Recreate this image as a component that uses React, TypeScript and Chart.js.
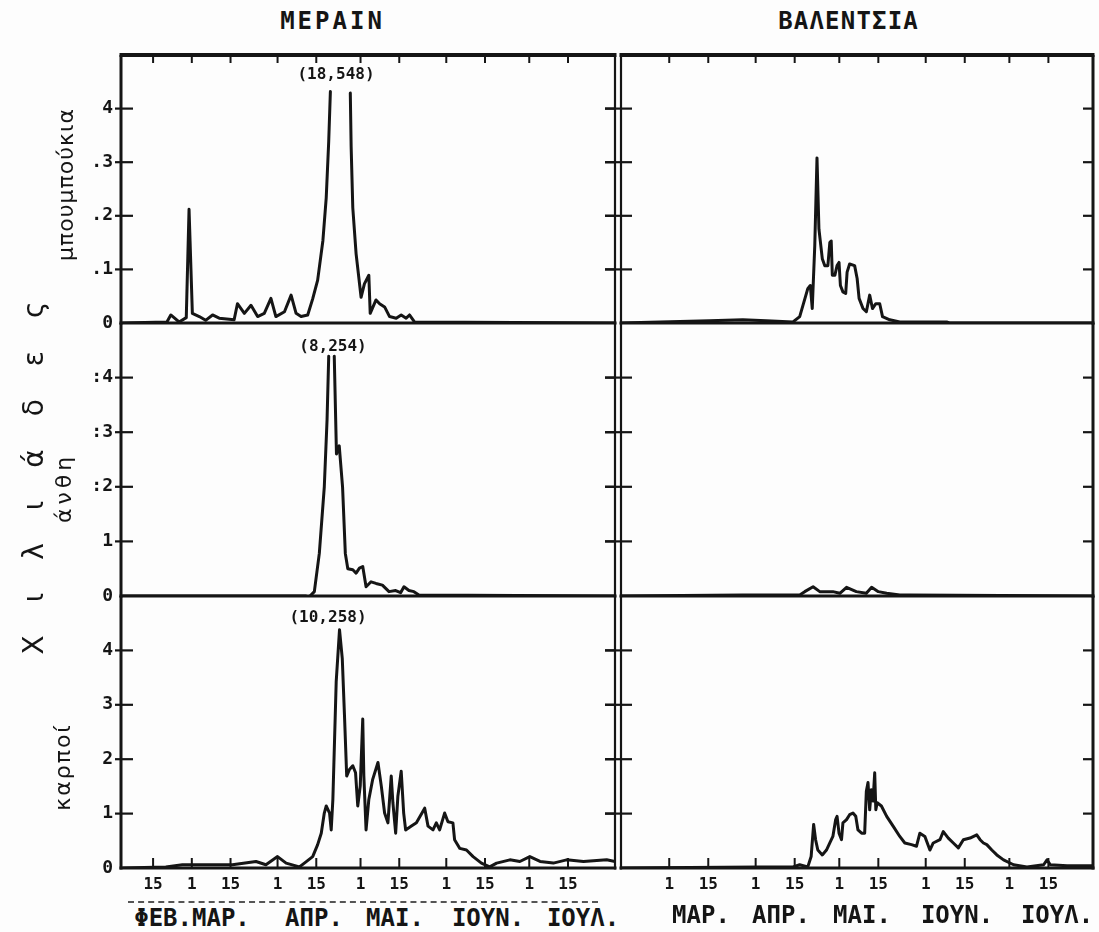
import React, { useEffect, useRef } from "react";
import { Chart, registerables } from "chart.js";

Chart.register(...registerables);

type Pt = [number, number | null];

// x = day counted from 1 February, y = thousands
const merainBuds: Pt[] = [
  [3, 0], [19, 0.02], [20.4, 0.15], [23.4, 0.02], [26, 0.1], [27, 2.12], [28.2, 0.18],
  [30.7, 0.12], [33, 0.05], [35.5, 0.15], [37.9, 0.09], [43.3, 0.06], [44.5, 0.36],
  [47, 0.18], [49.4, 0.33], [51.8, 0.12], [54.2, 0.18], [56.6, 0.46], [58.4, 0.12],
  [61.5, 0.21], [63.9, 0.52], [65.7, 0.18], [67.5, 0.12], [69.9, 0.15], [71.7, 0.45],
  [73.5, 0.8], [75.4, 1.54], [76.6, 2.34], [77.5, 3.39], [78.1, 4.32], [81.7, null],
  [85.3, 4.29], [85.6, 3.3], [86.2, 2.15], [87.4, 1.29], [89.2, 0.48], [90.4, 0.73],
  [92, 0.89], [92.5, 0.18], [94.6, 0.43], [95.9, 0.36], [97.7, 0.3], [99.5, 0.12],
  [101.9, 0.09], [103.7, 0.15], [105.5, 0.09], [106.7, 0.15], [108.5, 0.02], [181, 0],
];

const merainFlowers: Pt[] = [
  [3, 0], [69.3, 0], [70, -0.04], [72.3, 0.08], [74.1, 0.78], [75.9, 2.0], [76.9, 3.23],
  [77.5, 4.39], [78.5, null], [79.5, 4.39], [80.3, 2.6], [81.3, 2.75], [82.5, 2.0],
  [83.5, 0.78], [84.4, 0.5], [86.2, 0.48], [87.4, 0.42], [88.6, 0.51], [89.8, 0.54],
  [91, 0.17], [92.8, 0.26], [94.6, 0.23], [96.9, 0.2], [99.3, 0.08], [101.7, 0.1],
  [103.5, 0.06], [104.7, 0.17], [106.5, 0.1], [108.3, 0.08], [110.1, 0.02], [181, 0],
];

const merainFruit: Pt[] = [
  [3, 0], [18.6, 0.02], [24.6, 0.06], [30.7, 0.06], [36.7, 0.06], [42.7, 0.06], [51.2, 0.12],
  [54.8, 0.06], [59, 0.21], [62.1, 0.09], [66.9, 0.02], [68.7, 0.09], [71.7, 0.21],
  [73.5, 0.43], [74.8, 0.64], [75.9, 1.01], [76.6, 1.14], [77.8, 1.01], [78.4, 0.7],
  [79, 1.26], [80.2, 3.42], [81.4, 4.38], [82.4, 3.85], [83.2, 2.8], [84, 1.69],
  [85, 1.81], [86.2, 1.88], [87.2, 1.75], [88, 1.14], [88.9, 1.51], [89.8, 2.74],
  [90.2, 1.69], [91, 0.7], [92, 1.26], [93.4, 1.63], [95.3, 1.94], [96.5, 1.51],
  [97.7, 1.01], [98.9, 0.83], [100.1, 1.69], [100.7, 1.2], [101.7, 0.64], [102.5, 1.32],
  [103.7, 1.78], [104.6, 1.01], [105.3, 0.7], [107.4, 0.77], [109.2, 0.83], [112.2, 1.1],
  [113.4, 0.77], [115.2, 0.7], [116.4, 0.83], [117.6, 0.7], [119.4, 1.01], [120.6, 0.85],
  [122.4, 0.83], [123, 0.52], [124.9, 0.36], [127.3, 0.33], [129.7, 0.21], [132.7, 0.09],
  [135.7, 0.02], [138.2, 0.09], [143, 0.15], [146.6, 0.12], [150.2, 0.21], [153.9, 0.12],
  [158.7, 0.09], [163.5, 0.15], [169.6, 0.12], [178, 0.15], [181, 0.12],
];

const valenciaBuds: Pt[] = [
  [10.7, 0], [42.4, 0.04], [54.4, 0.06], [62.8, 0.04], [72.4, 0.02], [74.8, 0.12],
  [77.7, 0.64], [78.6, 0.7], [79.3, 0.27], [80.2, 1.44], [81, 3.08], [81.7, 1.75],
  [82.9, 1.2], [83.8, 1.07], [84.9, 1.07], [85.6, 1.5], [86.1, 1.53], [86.5, 0.89],
  [87.4, 0.89], [88.2, 1.07], [88.9, 1.13], [89.4, 0.7], [90.3, 0.58], [91.3, 0.55],
  [91.8, 0.95], [92.7, 1.1], [94.5, 1.07], [95.4, 0.83], [96.1, 0.46], [97.5, 0.27],
  [98.7, 0.21], [99.9, 0.52], [100.9, 0.27], [102.1, 0.36], [103.5, 0.36], [104.5, 0.12],
  [107.1, 0.06], [110.7, 0.02], [127.5, 0.02], [128.5, 0], [180, 0],
];

const valenciaFlowers: Pt[] = [
  [10.7, 0], [54.4, 0.02], [74.8, 0.02], [76.6, 0.08], [79.6, 0.17], [82, 0.08],
  [86.7, 0.08], [89.2, 0.05], [91.6, 0.16], [95.1, 0.08], [98.7, 0.05], [100.6, 0.16],
  [103, 0.08], [106, 0.05], [110.7, 0.02], [114.3, 0.02], [180, 0],
];

const valenciaFruit: Pt[] = [
  [10.7, 0], [60, 0.02], [72.4, 0.02], [74.8, 0.06], [77.7, 0.02], [78.9, 0.21], [79.8, 0.8],
  [80.5, 0.52], [81.3, 0.33], [82.9, 0.24], [84.4, 0.33], [85.6, 0.46], [86.7, 0.58],
  [87.7, 0.89], [88.2, 0.95], [88.9, 0.64], [89.8, 0.52], [90.3, 0.83], [91.6, 0.89],
  [92.7, 0.98], [93.9, 1.01], [94.9, 0.95], [95.7, 0.7], [97, 0.64], [98.1, 0.64],
  [98.7, 1.41], [99.3, 1.57], [99.9, 1.07], [100.5, 1.44], [101.1, 1.23], [101.7, 1.75],
  [102.1, 1.07], [102.6, 1.2], [104.1, 1.14], [106, 0.95], [108.3, 0.77], [110.7, 0.58],
  [112.5, 0.46], [114.9, 0.43], [116.7, 0.4], [117.9, 0.64], [119.7, 0.58], [121.5, 0.33],
  [122.7, 0.46], [125.1, 0.52], [126.3, 0.67], [128.1, 0.55], [129.9, 0.46], [131.7, 0.37],
  [133.5, 0.52], [135.9, 0.55], [138.3, 0.61], [139.5, 0.52], [140.7, 0.46], [141.9, 0.43],
  [143.7, 0.33], [145.5, 0.24], [147.9, 0.15], [151.5, 0.06], [156.3, 0.02], [162.3, 0.06],
  [163.5, 0.15], [164.7, 0.06], [170.7, 0.04], [177.9, 0.04], [180, 0.04],
];

const leftTickDays = [14, 28, 42, 59, 73, 89, 103, 120, 134, 150, 164];
const leftTickLabels = ["15", "1", "15", "1", "15", "1", "15", "1", "15", "1", "15"];
const rightTickDays = [28, 42, 59, 73, 89, 103, 120, 134, 150, 164];
const rightTickLabels = ["1", "15", "1", "15", "1", "15", "1", "15", "1", "15"];

const yTickValues = [0, 1, 2, 3, 4];
const budsYLabels = ["0", ".1", ".2", ".3", "4"];
const flowersYLabels = ["0", "1", ":2", ":3", ":4"];
const fruitYLabels = ["0", "1", "2", "3", "4"];

const columnTitles = ["ΜΕΡΑΙΝ", "ΒΑΛΕΝΤΣΙΑ"];
const rowNames = ["μπουμπούκια", "άνθη", "καρποί"];
const yAxisTitle = "Χιλιάδες";
const peakLabels = ["(18,548)", "(8,254)", "(10,258)"];
const leftMonths = ["ΦΕΒ.ΜΑΡ.", "ΑΠΡ.", "ΜΑΙ.", "ΙΟΥΝ.", "ΙΟΥΛ."];
const rightMonths = ["ΜΑΡ.", "ΑΠΡ.", "ΜΑΙ.", "ΙΟΥΝ.", "ΙΟΥΛ."];

// ---------- layout (not data) ----------
const INK = "#151515";
const MONO = "'DejaVu Sans Mono', 'Liberation Mono', monospace";
const SANS = "'DejaVu Sans', 'Noto Sans', sans-serif";
const COLS = [
  { left: 121, right: 615, xmin: 2.4, xmax: 181 },
  { left: 621, right: 1093, xmin: 10.7, xmax: 180 },
];
const ROWS = [
  { top: 55, bottom: 323 },
  { top: 323, bottom: 596 },
  { top: 596, bottom: 868 },
];

function framePlugin(col: number, row: number, tickDays: number[]) {
  return {
    id: "frame" + col + row,
    afterDatasetsDraw(chart: any) {
      const { ctx, chartArea: a, scales } = chart;
      const ys = scales.y;
      const xs = scales.x;
      const line = (x1: number, y1: number, x2: number, y2: number, w: number) => {
        ctx.lineWidth = w;
        ctx.beginPath();
        ctx.moveTo(x1, y1);
        ctx.lineTo(x2, y2);
        ctx.stroke();
      };
      ctx.save();
      ctx.strokeStyle = INK;
      ctx.lineCap = "butt";
      line(a.left, a.top, a.left, a.bottom + 1.5, col === 0 ? 3 : 2.2);
      line(a.right, a.top, a.right, a.bottom + 1.5, col === 0 ? 2.2 : 3);
      if (row === 0) line(a.left - 1.5, a.top, a.right + 1.5, a.top, 4);
      line(a.left - 1.5, a.bottom, a.right + 1.5, a.bottom, 3);
      for (const v of [1, 2, 3, 4]) {
        const py = ys.getPixelForValue(v);
        if (col === 0) line(a.left - 6, py, a.left + 12, py, 2.2);
        else line(a.left - 16, py, a.left + 11, py, 2.2);
        line(a.right - 10, py, a.right, py, 2.2);
      }
      if (row === 0)
        for (const d of tickDays) {
          const px = xs.getPixelForValue(d);
          line(px, a.top, px, a.top + 8, 2);
        }
      if (row === 2)
        for (const d of tickDays) {
          const px = xs.getPixelForValue(d);
          line(px, a.bottom, px, a.bottom - 10, 2);
        }
      ctx.restore();
    },
  };
}

type PanelProps = {
  data: Pt[];
  col: number;
  row: number;
  yLabels: string[];
  tickDays: number[];
  tickLabels: string[];
};

function Panel({ data, col, row, yLabels, tickDays, tickLabels }: PanelProps) {
  const ref = useRef<HTMLCanvasElement>(null);
  const c = COLS[col];
  const r = ROWS[row];
  const ML = col === 0 ? 50 : 20;
  const MR = 12;
  const MT = 10;
  const MB = row === 2 ? 36 : 10;
  const W = c.right - c.left + ML + MR;
  const H = r.bottom - r.top + MT + MB;

  useEffect(() => {
    const chart = new Chart(ref.current as HTMLCanvasElement, {
      type: "line",
      data: {
        datasets: [
          {
            data: data.map(([x, y]) => ({ x, y })) as any,
            borderColor: INK,
            borderWidth: 3,
            pointRadius: 0,
            tension: 0,
            spanGaps: false,
            fill: false,
            borderJoinStyle: "round",
            borderCapStyle: "round",
          },
        ],
      },
      options: {
        animation: false,
        responsive: false,
        maintainAspectRatio: false,
        devicePixelRatio: 1,
        events: [],
        layout: { padding: { top: MT, right: MR, left: 0, bottom: 0 } },
        plugins: {
          legend: { display: false },
          tooltip: { enabled: false },
          title: { display: false },
        },
        scales: {
          x: {
            type: "linear",
            min: c.xmin,
            max: c.xmax,
            grid: { display: false, drawTicks: false },
            border: { display: false },
            ticks: {
              display: row === 2,
              autoSkip: false,
              maxRotation: 0,
              padding: 7,
              color: INK,
              font: { family: MONO, size: 16, weight: "bold" },
              callback: (v: any) => {
                const i = tickDays.indexOf(Number(v));
                return i >= 0 ? tickLabels[i] : "";
              },
            },
            afterBuildTicks: (s: any) => {
              s.ticks = tickDays.map((v) => ({ value: v }));
            },
            afterFit: (s: any) => {
              s.height = MB;
              s.paddingLeft = 0;
              s.paddingRight = 0;
            },
          },
          y: {
            type: "linear",
            min: 0,
            max: 5,
            grid: { display: false, drawTicks: false },
            border: { display: false },
            ticks: {
              display: col === 0,
              padding: 8,
              color: INK,
              font: { family: MONO, size: 18, weight: "bold" },
              callback: (v: any) => {
                const i = yTickValues.indexOf(Number(v));
                return i >= 0 ? yLabels[i] : null;
              },
            },
            afterBuildTicks: (s: any) => {
              s.ticks = yTickValues.map((v) => ({ value: v }));
            },
            afterFit: (s: any) => {
              s.width = ML;
              s.paddingTop = 0;
              s.paddingBottom = 0;
            },
          },
        },
      } as any,
      plugins: [framePlugin(col, row, tickDays)],
    });
    return () => chart.destroy();
  }, []);

  return (
    <canvas
      ref={ref}
      width={W}
      height={H}
      style={{ position: "absolute", left: c.left - ML, top: r.top - MT, width: W, height: H }}
    />
  );
}

function Text({
  x,
  y,
  children,
  size,
  family = MONO,
  weight = "bold",
  rotate = false,
  spacing = 0,
}: {
  x: number;
  y: number;
  children: React.ReactNode;
  size: number;
  family?: string;
  weight?: string;
  rotate?: boolean;
  spacing?: number;
}) {
  return (
    <div
      style={{
        position: "absolute",
        left: x,
        top: y,
        transform: `translate(-50%, -50%)${rotate ? " rotate(-90deg)" : ""}`,
        whiteSpace: "nowrap",
        fontFamily: family,
        fontSize: size,
        fontWeight: weight as any,
        lineHeight: 1,
        letterSpacing: spacing,
        paddingLeft: spacing,
        color: INK,
      }}
    >
      {children}
    </div>
  );
}

export default function App() {
  const leftMonthX = [192, 314, 395, 488, 583];
  const rightMonthX = [701, 781, 862, 957, 1057];
  return (
    <div
      style={{
        position: "absolute",
        left: 0,
        top: 0,
        width: 1099,
        height: 932,
        overflow: "hidden",
        background: "#fdfdfd",
      }}
    >
      <Panel data={merainBuds} col={0} row={0} yLabels={budsYLabels} tickDays={leftTickDays} tickLabels={leftTickLabels} />
      <Panel data={merainFlowers} col={0} row={1} yLabels={flowersYLabels} tickDays={leftTickDays} tickLabels={leftTickLabels} />
      <Panel data={merainFruit} col={0} row={2} yLabels={fruitYLabels} tickDays={leftTickDays} tickLabels={leftTickLabels} />
      <Panel data={valenciaBuds} col={1} row={0} yLabels={budsYLabels} tickDays={rightTickDays} tickLabels={rightTickLabels} />
      <Panel data={valenciaFlowers} col={1} row={1} yLabels={flowersYLabels} tickDays={rightTickDays} tickLabels={rightTickLabels} />
      <Panel data={valenciaFruit} col={1} row={2} yLabels={fruitYLabels} tickDays={rightTickDays} tickLabels={rightTickLabels} />

      <Text x={331} y={21} size={24} spacing={3}>{columnTitles[0]}</Text>
      <Text x={848} y={21} size={24} spacing={1.2}>{columnTitles[1]}</Text>

      <Text x={336} y={74} size={16}>{peakLabels[0]}</Text>
      <Text x={333} y={346} size={16}>{peakLabels[1]}</Text>
      <Text x={328} y={617} size={16}>{peakLabels[2]}</Text>

      <Text x={66} y={185} size={22} family={SANS} weight="normal" rotate spacing={1}>{rowNames[0]}</Text>
      <Text x={64} y={490} size={22} family={SANS} weight="normal" rotate spacing={4}>{rowNames[1]}</Text>
      <Text x={63} y={768} size={22} family={SANS} weight="normal" rotate spacing={2}>{rowNames[2]}</Text>
      <Text x={34} y={478} size={28} family={SANS} weight="normal" rotate spacing={33}>{yAxisTitle}</Text>

      <div
        style={{
          position: "absolute",
          left: 128,
          top: 901,
          width: 470,
          borderTop: "2px dashed #555",
        }}
      />
      {leftMonths.map((m, i) => (
        <Text key={"l" + i} x={leftMonthX[i]} y={918} size={24}>{m}</Text>
      ))}
      {rightMonths.map((m, i) => (
        <Text key={"r" + i} x={rightMonthX[i]} y={915} size={24}>{m}</Text>
      ))}
    </div>
  );
}
